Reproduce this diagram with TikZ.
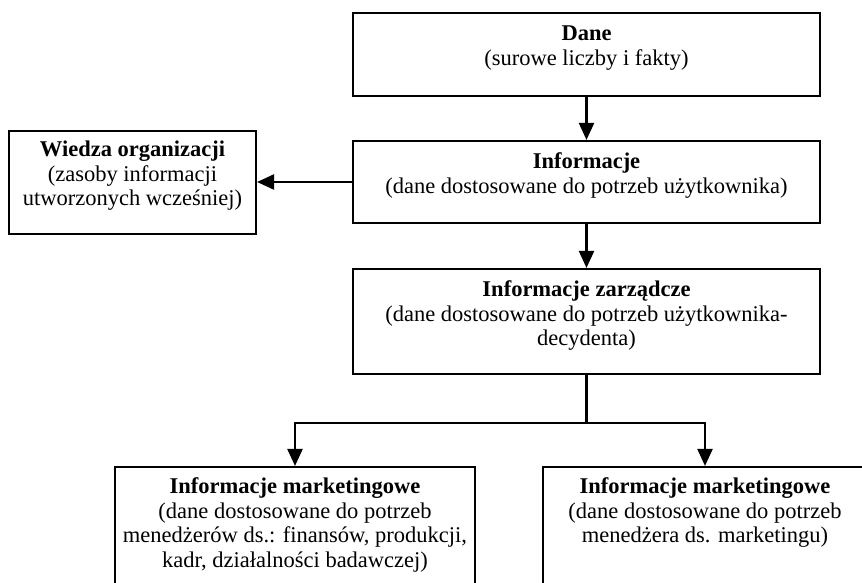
\documentclass[tikz,border=0pt]{standalone}
\usepackage{fontspec}
\setmainfont{Liberation Serif}
\usetikzlibrary{arrows.meta}
\begin{document}
\begin{tikzpicture}[x=1pt,y=-1pt,
  box/.style={draw=black,line width=2.1pt,rectangle,inner sep=0pt,fill=none},
  txt/.style={anchor=base,inner sep=0pt,font=\fontsize{22.5}{24.5}\selectfont},
  arr/.style={line width=2.3pt,-{Triangle[length=17pt,width=15pt]}},
  ln/.style={line width=2.3pt}]
\useasboundingbox (0,0) rectangle (862,583);
\clip (0,0) rectangle (862,583);
\fill[white] (0,0) rectangle (862,583);
% boxes
\node[box,minimum width=467pt,minimum height=83pt] (dane) at (586.5,54.5) {};
\node[box,minimum width=467pt,minimum height=82pt] (info) at (586.5,182) {};
\node[box,minimum width=247pt,minimum height=103pt] (wiedza) at (132.5,182.5) {};
\node[box,minimum width=467pt,minimum height=105pt] (zarz) at (586.5,321.5) {};
\node[box,minimum width=360pt,minimum height=133pt] (left) at (295,533.5) {};
\node[box,minimum width=324pt,minimum height=133pt] (right) at (705,533.5) {};
% texts
\node[txt] (dane-t) at ([yshift=-29pt]dane.north) {\begin{tabular}[t]{@{}c@{}}\textbf{Dane}\\(surowe liczby i fakty)\end{tabular}};
\node[txt] (info-t) at ([yshift=-29pt]info.north) {\begin{tabular}[t]{@{}c@{}}\textbf{Informacje}\\(dane dostosowane do potrzeb użytkownika)\end{tabular}};
\node[txt] (wiedza-t) at ([yshift=-27pt]wiedza.north) {\begin{tabular}[t]{@{}c@{}}\textbf{Wiedza organizacji}\\(zasoby informacji\\utworzonych wcześniej)\end{tabular}};
\node[txt] (zarz-t) at ([yshift=-29pt]zarz.north) {\begin{tabular}[t]{@{}c@{}}\textbf{Informacje zarządcze}\\(dane dostosowane do potrzeb użytkownika-\\decydenta)\end{tabular}};
\node[txt] (left-t) at ([yshift=-28pt]left.north) {\begin{tabular}[t]{@{}c@{}}\textbf{Informacje marketingowe}\\(dane dostosowane do potrzeb\\menedżerów ds.: finansów, produkcji,\\kadr, działalności badawczej)\end{tabular}};
\node[txt] (right-t) at ([yshift=-28pt]right.north) {\begin{tabular}[t]{@{}c@{}}\textbf{Informacje marketingowe}\\(dane dostosowane do potrzeb\\menedżera ds. marketingu)\end{tabular}};
% connectors
\draw[arr] (dane.south) -- (info.north);
\draw[arr] (info.west) -- (info.west -| wiedza.east);
\draw[arr] (info.south) -- (zarz.north);
\draw[ln] (zarz.south) -- ++(0,48) coordinate (split);
\draw[arr] (split) -| (left.north);
\draw[arr] (split) -| (right.north);
\end{tikzpicture}
\end{document}
